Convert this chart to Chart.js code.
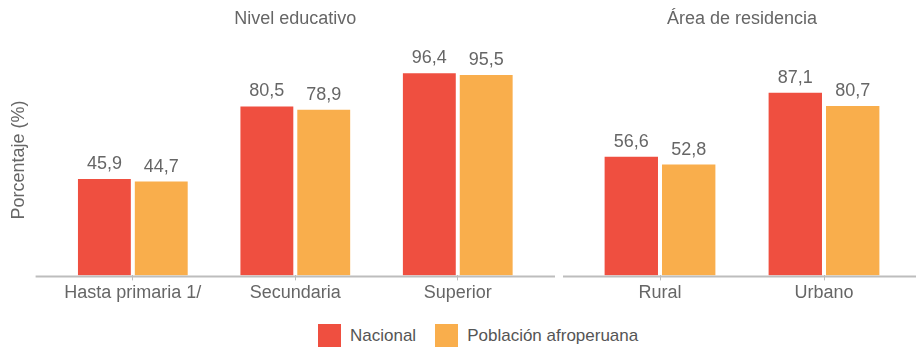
<!DOCTYPE html>
<html>
<head>
<meta charset="utf-8">
<script src="https://cdn.jsdelivr.net/npm/chart.js@4/dist/chart.umd.min.js"></script>
<style>
  html, body { margin: 0; padding: 0; background: #fff; }
  #wrap { position: relative; width: 916px; height: 350px; font-family: "Liberation Sans", Arial, sans-serif; }
  #left { position: absolute; left: 0; top: 0; width: 560px; height: 310px; }
  #right { position: absolute; left: 560px; top: 0; width: 356px; height: 310px; }
  .legend { position: absolute; top: 324px; left: 318px; display: flex; align-items: center; font-size: 17px; color: #555; }
  .legend span.box { display: inline-block; width: 23px; height: 23px; margin-right: 9px; }
  .legend span.txt { margin-right: 19px; }
</style>
</head>
<body>
<div id="wrap">
  <div id="left"><canvas id="c1"></canvas></div>
  <div id="right"><canvas id="c2"></canvas></div>
  <div class="legend">
    <span class="box" style="background:#EF4F40"></span><span class="txt">Nacional</span>
    <span class="box" style="background:#F9AE4C"></span><span class="txt">Población afroperuana</span>
  </div>
</div>
<script>
const educLabels = ["Hasta primaria 1/", "Secundaria", "Superior"];
const educNacional = [45.9, 80.5, 96.4];
const educAfro = [44.7, 78.9, 95.5];

const areaLabels = ["Rural", "Urbano"];
const areaNacional = [56.6, 87.1];
const areaAfro = [52.8, 80.7];

const seriesNames = ["Nacional", "Población afroperuana"];
const RED = "#EF4F40";
const ORANGE = "#F9AE4C";
const TEXT = "#666";
const AXIS = "#bdbdbd";
const FONT = "'Liberation Sans', Arial, sans-serif";

// value labels above each bar, decimal comma
const valueLabels = {
    id: "valueLabels",
    afterDatasetsDraw(chart) {
        const ctx = chart.ctx;
        ctx.save();
        ctx.font = "18px " + FONT;
        ctx.fillStyle = TEXT;
        ctx.textAlign = "center";
        ctx.textBaseline = "alphabetic";
        chart.data.datasets.forEach((ds, i) => {
            chart.getDatasetMeta(i).data.forEach((bar, j) => {
                ctx.fillText(ds.data[j].toFixed(1).replace(".", ","), bar.x, bar.y - 10);
            });
        });
        ctx.restore();
    }
};

// baseline that runs a bit past the plot area
const baseLine = {
    id: "baseLine",
    afterDraw(chart, args, opts) {
        const { ctx, chartArea } = chart;
        const x0 = chartArea.left - opts.left;
        const x1 = opts.toEdge ? chart.width : chartArea.right + opts.right;
        ctx.save();
        ctx.strokeStyle = AXIS;
        ctx.lineWidth = 2;
        ctx.beginPath();
        ctx.moveTo(x0, chartArea.bottom + 1);
        ctx.lineTo(x1, chartArea.bottom + 1);
        ctx.stroke();
        ctx.restore();
    }
};

function makeChart(id, labels, nac, afro, title, withYTitle, pad, line) {
    return new Chart(document.getElementById(id), {
        type: "bar",
        data: {
            labels: labels,
            datasets: [
                { label: seriesNames[0], data: nac, backgroundColor: RED },
                { label: seriesNames[1], data: afro, backgroundColor: ORANGE }
            ]
        },
        options: {
            responsive: true,
            maintainAspectRatio: false,
            animation: false,
            datasets: { bar: { categoryPercentage: 0.7, barPercentage: 0.93 } },
            layout: { padding: pad },
            plugins: {
                legend: { display: false },
                tooltip: { enabled: false },
                title: {
                    display: true,
                    text: title,
                    fullSize: false,
                    color: TEXT,
                    font: { family: FONT, size: 18, weight: "normal" },
                    padding: { top: 8, bottom: 15 }
                },
                baseLine: line
            },
            scales: {
                x: {
                    grid: { display: true, drawOnChartArea: false, offset: false, tickLength: 5, color: AXIS, lineWidth: 1 },
                    border: { display: false },
                    ticks: { color: TEXT, font: { family: FONT, size: 18 }, padding: 2, maxRotation: 0 }
                },
                y: {
                    display: withYTitle,
                    min: 0,
                    max: 110,
                    grid: { display: false },
                    border: { display: false },
                    ticks: { display: false },
                    title: {
                        display: withYTitle,
                        text: "Porcentaje (%)",
                        color: TEXT,
                        font: { family: FONT, size: 18 },
                        padding: { top: 8, bottom: 14 }
                    }
                }
            }
        },
        plugins: [valueLabels, baseLine]
    });
}

makeChart("c1", educLabels, educNacional, educAfro, "Nivel educativo", true,
    { left: 0, right: 21, top: 0, bottom: 4 }, { left: 16, right: 16, toEdge: false });
makeChart("c2", areaLabels, areaNacional, areaAfro, "Área de residencia", false,
    { left: 18, right: 10, top: 0, bottom: 4 }, { left: 15, right: 0, toEdge: true });
</script>
</body>
</html>
